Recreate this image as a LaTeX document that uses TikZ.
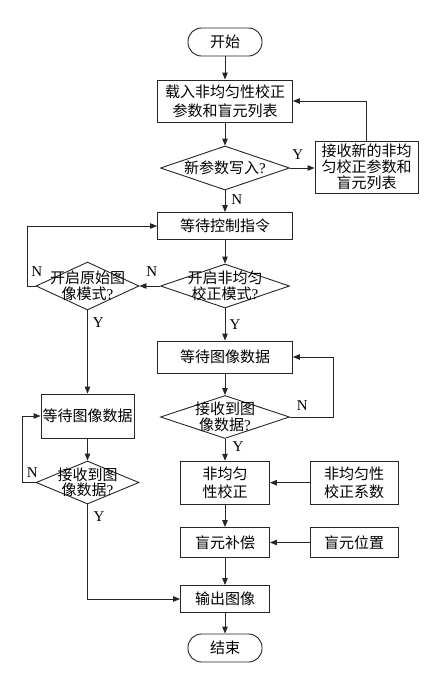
\documentclass[tikz,border=0pt]{standalone}
\usepackage{fontspec}
\setmainfont{Liberation Serif}
\newfontfamily\cjk{Noto Sans CJK SC}
\usetikzlibrary{shapes.geometric,arrows.meta}
\newcommand\qm{{\rmfamily ?}}
\begin{document}
\begin{tikzpicture}[x=1pt,y=-1pt,
  every node/.style={inner sep=0pt},
  box/.style={draw=black!85, line width=0.9pt, rectangle, align=center,
    font=\cjk\fontsize{15}{15.8}\selectfont},
  term/.style={box, rounded corners=13.5pt},
  dia/.style={draw=black!85, line width=0.9pt, diamond, minimum width=129pt, minimum height=44pt},
  dtxt/.style={align=center, font=\cjk\fontsize{15}{15.5}\selectfont},
  yn/.style={font=\rmfamily\fontsize{15}{15}\selectfont},
  arr/.style={draw=black!85, line width=0.9pt, -{Triangle[length=7pt,width=5.5pt]}}
]
\fill[white] (0,0) rectangle (441,678);
\useasboundingbox (0,0) rectangle (441,678);

\node[term, minimum width=74pt, minimum height=28pt] (start) at (225,42) {开始};
\node[box, minimum width=135pt, minimum height=42pt] (b1) at (225,101) {载入非均匀性校正\\[3.5pt]参数和盲元列表};
\node[dia] (d1) at (225,168) {};
\node[dtxt] (d1t) at (d1) {新参数写入\qm};
\node[box, minimum width=103pt, minimum height=52pt] (rb) at (366.5,167) {接收新的非均\\匀校正参数和\\盲元列表};
\node[box, minimum width=135pt, minimum height=27pt] (wc) at (225,226) {等待控制指令};
\node[dia] (d2) at (225,286) {};
\node[dtxt] (d2t) at (d2) {开启非均匀\\校正模式\qm};
\node[dia, minimum width=103pt, minimum height=48pt] (d3) at (87.5,286) {};
\node[dtxt] (d3t) at (d3) {开启原始图\\像模式\qm};
\node[box, minimum width=135pt, minimum height=32pt] (rw) at (225,357) {等待图像数据};
\node[dia, minimum height=43pt] (d4) at (225,417) {};
\node[dtxt] (d4t) at (d4) {接收到图\\像数据\qm};
\node[box, minimum width=93pt, minimum height=44pt] (lw) at (87.5,416) {等待图像数据};
\node[dia, minimum width=103pt, minimum height=43pt] (d5) at (87.5,482.5) {};
\node[dtxt] (d5t) at (d5) {接收到图\\像数据\qm};
\node[box, minimum width=89pt, minimum height=43pt] (nuc) at (225,482.7) {非均匀\\[2pt]性校正};
\node[box, minimum width=88pt, minimum height=43pt] (coef) at (354,482.7) {非均匀性\\[2pt]校正系数};
\node[box, minimum width=89pt, minimum height=30pt] (bp) at (225,542.5) {盲元补偿};
\node[box, minimum width=88pt, minimum height=30pt] (pos) at (354,542.5) {盲元位置};
\node[box, minimum width=89pt, minimum height=27pt] (out) at (225,599) {输出图像};
\node[term, minimum width=74pt, minimum height=28pt] (end) at (225,648) {结束};

\draw[arr] (start) -- (b1);
\draw[arr] (b1) -- (d1.north);
\draw[arr] (d1.east) -- (d1.east -| rb.west);
\draw[arr] (rb.north) |- (b1.east);
\draw[arr] (d1.south) -- (wc.north);
\draw[arr] (wc.south) -- (d2.north);
\draw[arr] (d2.west) -- (d3.east);
\draw[arr] (d3.west) -- ++(-8,0) |- (wc.west);
\draw[arr] (d3.south) -- (lw.north);
\draw[arr] (lw.south) -- (d5.north);
\draw[arr] (d5.west) -- ++(-13,0) |- (lw.west);
\draw[arr] (d5.south) |- (out.west);
\draw[arr] (d2.south) -- (rw.north);
\draw[arr] (rw.south) -- (d4.north);
\draw[arr] (d4.east) -- ++(43,0) |- (rw.east);
\draw[arr] (d4.south) -- (nuc.north);
\draw[arr] (coef.west) -- (nuc.east);
\draw[arr] (nuc.south) -- (bp.north);
\draw[arr] (pos.west) -- (bp.east);
\draw[arr] (bp.south) -- (out.north);
\draw[arr] (out.south) -- (end.north);

\node[yn] (y1) at (297.7,155) {Y};
\node[yn] (n1) at (236.7,200) {N};
\node[yn] (n2) at (151.7,271.7) {N};
\node[yn] (n3) at (36.7,271.7) {N};
\node[yn] (y3) at (98.3,322.7) {Y};
\node[yn] (y2) at (235,324.3) {Y};
\node[yn] (n4) at (302.3,406) {N};
\node[yn] (y4) at (238,446.7) {Y};
\node[yn] (n5) at (32.3,472.3) {N};
\node[yn] (y5) at (99,517) {Y};
\end{tikzpicture}
\end{document}
